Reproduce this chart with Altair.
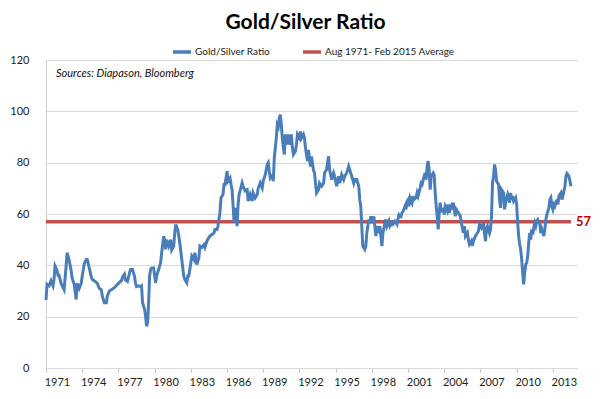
import altair as alt
import pandas as pd

# months since Aug 1971, and gold/silver ratio
months_a = [0,1,3,5,7,8,9,11,12,13,15,17,18,20,21,23,25,26,28,30,31,33,35,36,38,40,41,43,45,46,48,50,51,53,55,56,58,60,61,63,65,68,71,75,76,78,79,81,83,84,86,88,89]
ratio_a = [26.5,32.6,32,34,32,34.5,39.7,38,36,36,33,31.3,30.5,39.7,44.9,42,38,35,32.7,26.7,33,31,33,35.8,40.5,42.3,42.3,39,35.5,34.5,34,33.4,33,31,30.5,28,25.4,25.4,28,30,30.5,31.3,32.6,34,35.3,36.5,34.3,33.7,37,38.4,38.4,35.8,33]

months_b = [90,92,94,95,96,98,99,100,101,102,103,104,105,107,109,110,112,114,115,117,118,119,120,122,124,125,127,128,129,131,132,133,135,137,138,140,141,142,143,145,147,148,150,152,153,155,157,158,160,162,163,165,167,168,170,171]
ratio_b = [31.7,32,31.7,32,25.4,23,20.2,16.3,17.5,25,35.8,38.4,39,39,33.2,35.8,38.4,41,44.9,51.4,50,46.2,50,47.5,50,46,47.5,52.6,55.9,53.9,51.4,48.8,42.3,35.8,34.5,33.2,35.8,35.8,38.4,43.6,42.3,44.9,40.3,43,47.5,47,48,47,49.5,50.8,51.4,52,52.6,54,54,55.3]

months_c = [172,173,174,176,177,178,179,180,181,183,184,185,186,187,189,190,191,192,193,195,196,198,200,201,203,205,206,208,210,211,213,215,216,218,220,221,222,223,225,226,227,229,230,231,232,233,234,235,236,237,238,240,241,242,244,245,246,248,249,250,252,253,254,256,257,258,260]
ratio_c = [57.9,60.7,66.3,67.6,71.5,71.5,74,76.7,72.8,74,71.5,69.5,63.7,56.6,62.4,55.3,63.7,67.6,69,72.1,70.8,69,69.5,65,67.6,65,68.2,66.3,67.6,70,72.1,70.2,72.8,75.3,79.3,80,76.7,74,75,72.8,81.9,89.6,94.8,94,97.4,98.7,94.8,89.6,85.8,83.2,91,87.1,91,87,91,85.8,83.2,84.5,87,91,89.6,92.2,89.6,91,89.6,85.8,80.6]

months_d = [261,263,264,266,267,269,271,272,274,276,277,279,281,282,284,286,287,289,291,292,294,296,297,299,301,302,304,306,307,309,311,312,313,314,315,317,318,319,320,321,322,323,324,326,327,328,329,331,332,333,334,335,337,338,339,341,342,344]
ratio_d = [85,78.5,82.4,77,76,68.2,69.5,72,70.8,72,76,77.3,82.5,77.3,73.4,76,74.7,70.8,74.7,72,75.3,73.4,74.7,76,78.6,77.3,74.7,72,73.4,73.4,70.8,65.6,63,55.3,47.5,46.2,47.5,52.6,55.3,57.9,56.5,59.1,56.5,59.1,55.3,51.4,55.3,52.6,55.3,51.4,47.5,52.6,56.5,57.9,55.3,57.2,55.3,56.5]

months_e = [345,347,349,350,351,353,354,355,357,358,359,360,361,362,364,365,366,368,369,370,372,373,374,376,377,378,379,380,381,382,383,385,386,387,388,389,390,391,392,393,395,396,397,399,400,401,403,404,405,407,408,409,411,412,413,415,416,417,419,420,421,423,424,425,427,428]
ratio_e = [56,57.2,56,58,59.8,59.1,60.5,61,63,61.8,65,65.6,63,66.3,64.4,67,65.6,66.3,68.2,67,70.2,72,71.5,74.7,76,73.4,78.6,80.6,77.3,69.5,74.7,76,75.3,68.2,63,59,54,60.5,64.4,61.2,61.8,59.8,63,61.2,63.7,60.5,63,61.8,64.4,59.1,61.8,61.2,59.8,59.1,56.5,52.7,55.3,51.4,52.7,50.1,48.2,49.5,47.5,49.5,51.4,52]

months_f = [430,431,433,435,436,437,438,439,441,442,443,444,445,446,447,448,449,450,451,452,453,455,456,457,458,459,461,462,463,464,465,467,468,469,470,471,472,473,474,475,476,477,478,479,480,481,482,483,484,485,486,487,488,489,491,492,493,495,496,497,498,500,501,502,503,504,505,506,508,509,510,512,513,514,516,517,518,520,521,522]
ratio_f = [53.3,56,54.6,56.5,52.6,49.4,54,55.3,52.6,54,59.1,72.1,74.7,79.3,77.3,72.8,72.1,71.5,65.6,62.4,69.5,68.2,61.8,64.4,66.3,67.6,64.4,68.2,65.6,67,65,66.3,63.7,56.5,51.4,48.2,46.2,42.3,37.1,32.6,37.1,40.3,41,43.6,48.8,52.6,50,54,52,54.6,56.5,55.3,57.2,57.8,56,52.6,54,51.4,54,57.8,59.8,62.4,65.6,66.3,63,61.8,63.7,63,65.6,63.7,67,68.2,65.6,67,70.8,74.7,75.8,74.7,72.8,70.8]

series_names = ["Gold/Silver Ratio", "Aug 1971- Feb 2015 Average"]
average_value = 57
average_months = [0, 522]
tick_years = list(range(1971, 2014, 3))
y_ticks = [0, 20, 40, 60, 80, 100, 120]
source_note = "Sources: Diapason, Bloomberg"

months = months_a + months_b + months_c + months_d + months_e + months_f
ratio = ratio_a + ratio_b + ratio_c + ratio_d + ratio_e + ratio_f
n = min(len(months), len(ratio))


def to_year(m):
    return 1971 + (7 + m) / 12


df = pd.DataFrame({
    "year": [to_year(m) for m in months[:n]],
    "ratio": ratio[:n],
    "series": series_names[0],
})
avg_df = pd.DataFrame({
    "year": [to_year(m) for m in average_months],
    "ratio": [average_value] * len(average_months),
    "series": series_names[1],
})
label_df = avg_df.iloc[[-1]].assign(label=str(average_value))
note_df = pd.DataFrame({"t": [source_note]})

FONT = "Lato"
blue = "#4A7EBB"
red = "#C0504D"

color = alt.Color(
    "series:N",
    scale=alt.Scale(domain=series_names, range=[blue, red]),
    legend=alt.Legend(
        orient="none", legendX=125, legendY=-19, direction="horizontal",
        title=None, symbolType="stroke", symbolSize=324, symbolStrokeWidth=3.5,
        labelFontSize=10, labelFont=FONT, labelColor="#222", columnPadding=26,
        labelOffset=2, padding=0,
    ),
)

x = alt.X(
    "year:Q",
    scale=alt.Scale(domain=[to_year(0), to_year(528)], nice=False, zero=False),
    axis=alt.Axis(
        values=[y + 7 / 12 for y in tick_years],
        labelExpr="'' + floor(datum.value)",
        labelOffset=11, labelOverlap=False, labelBound=False, labelFlush=False,
        grid=False, tickSize=4, tickColor="#BFBFBF", domainColor="#D9D9D9",
        labelFontSize=11, labelFont=FONT, labelColor="#222", labelPadding=4,
    ),
    title=None,
)
y = alt.Y(
    "ratio:Q",
    scale=alt.Scale(domain=[0, 120], nice=False),
    axis=alt.Axis(
        values=y_ticks, grid=True, gridColor="#D9D9D9", ticks=False,
        domainColor="#D0D0D0", labelFontSize=11, labelFont=FONT,
        labelColor="#222", labelPadding=17,
    ),
    title=None,
)

line = alt.Chart(df).mark_line(strokeWidth=3).encode(x=x, y=y, color=color)
avg = alt.Chart(avg_df).mark_line(strokeWidth=3.5).encode(x=x, y=y, color=color)
lbl = alt.Chart(label_df).mark_text(
    align="left", dx=5, fontSize=13, fontWeight="bold", color="#C00000", font=FONT
).encode(x=x, y=y, text="label:N")
note = alt.Chart(note_df).mark_text(
    align="left", baseline="middle", fontStyle="italic", fontSize=11, font=FONT, color="#111"
).encode(text="t:N", x=alt.value(10), y=alt.value(14))

chart = alt.layer(avg, line, lbl, note).properties(
    width=531, height=308,
    title=alt.TitleParams(
        "Gold/Silver Ratio", font=FONT, fontSize=21, fontWeight="bold",
        anchor="middle", dx=-6, offset=8, frame="group", color="#000",
    ),
    autosize=alt.AutoSizeParams(type="none"),
    padding={"left": 38, "top": 52, "right": 25, "bottom": 23},
).configure_view(stroke=None)

chart.save("out.html", embed_options={"renderer": "svg", "actions": False})
